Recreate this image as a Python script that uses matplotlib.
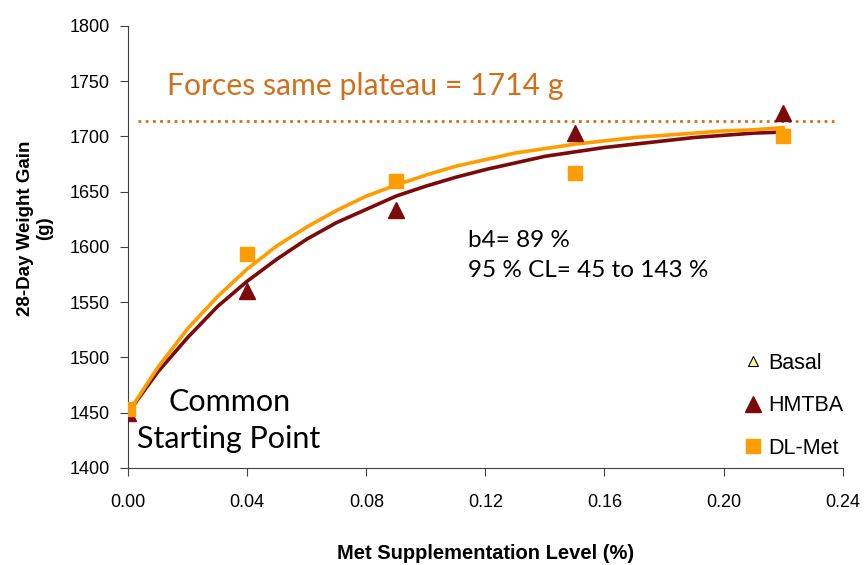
import matplotlib
matplotlib.use('Agg')
import matplotlib.pyplot as plt

# measured gains (g) at each Met supplementation level (%)
levels = [0.00, 0.04, 0.09, 0.15, 0.22]
basal_x = [0.00]
basal_y = [1450]
hmtba_y = [1450, 1560, 1633, 1703, 1721]
dlmet_y = [1453, 1594, 1660, 1667, 1700]

# fitted response curves, read along the x axis
curve_x = [0.00, 0.01, 0.02, 0.03, 0.04, 0.05, 0.06, 0.07, 0.08, 0.09, 0.10, 0.11,
           0.12, 0.13, 0.14, 0.15, 0.16, 0.17, 0.18, 0.19, 0.20, 0.21, 0.22]
hmtba_fit = [1450, 1487, 1518, 1546, 1569, 1589, 1607, 1622, 1634, 1646, 1655, 1663,
             1670, 1676, 1682, 1686, 1690, 1693, 1696, 1699, 1701, 1703, 1704]
dlmet_fit = [1450, 1491, 1526, 1555, 1580, 1601, 1618, 1633, 1646, 1656, 1665, 1673,
             1679, 1685, 1689, 1693, 1696, 1699, 1701, 1703, 1705, 1706, 1708]

plateau = 1714
xticks = [0.00, 0.04, 0.08, 0.12, 0.16, 0.20, 0.24]
yticks = [1400, 1450, 1500, 1550, 1600, 1650, 1700, 1750, 1800]

MAROON = '#7B0A0A'
ORANGE = '#FF9C00'
PLAT = '#D0701C'

fig = plt.figure(figsize=(8.66, 5.65), dpi=100)
ax = fig.add_axes([0.148, 0.172, 0.825, 0.782])

ax.plot(curve_x, hmtba_fit, color=MAROON, lw=2.6, zorder=2)
ax.plot(curve_x, dlmet_fit, color=ORANGE, lw=2.6, zorder=3)

ax.plot(basal_x, basal_y, ls='none', marker='^', ms=7, mfc='#FFFF99', mec='black',
        mew=0.8, label='Basal', zorder=4)
ax.plot(levels, hmtba_y, ls='none', marker='^', ms=12, color=MAROON, label='HMTBA', zorder=5)
ax.plot(levels, dlmet_y, ls='none', marker='s', ms=10, color=ORANGE, label='DL-Met', zorder=6)

ax.plot([0.0034, 0.237], [plateau, plateau], ls=(0, (1, 1.6)), color=PLAT, lw=2, zorder=1)

ax.set_xlim(0, 0.24)
ax.set_ylim(1400, 1800)
ax.set_xticks(xticks)
ax.set_yticks(yticks)
ax.set_xticklabels(['%.2f' % t for t in xticks])
for side in ['top', 'right']:
    ax.spines[side].set_visible(False)
for side in ['left', 'bottom']:
    ax.spines[side].set_color('#404040')
ax.tick_params(direction='out', length=6, color='#404040', labelsize=13)
ax.tick_params(axis='y', pad=7)
ax.tick_params(axis='x', pad=13)
for lab in ax.get_xticklabels() + ax.get_yticklabels():
    lab.set_family('Liberation Sans')

ax.set_xlabel('Met Supplementation Level (%)', family='Liberation Sans', weight='bold',
              fontsize=14.5)
ax.xaxis.set_label_coords(0.5, -0.172)
ax.set_ylabel('28-Day Weight Gain\n(g)', family='Liberation Sans', weight='bold',
              fontsize=13.5)
ax.yaxis.set_label_coords(-0.105, 0.543)

ax.text(0.0131, 1746, 'Forces same plateau = %d g' % plateau, family='Lato',
        fontsize=21.7, color=PLAT, va='center')
ax.text(0.1141, 1592, 'b4= 89 %\n95 % CL= 45 to 143 %', family='Lato', fontsize=17.5,
        va='center', linespacing=1.5)
ax.text(0.0339, 1443, 'Common\nStarting Point', family='Lato', fontsize=22,
        ha='center', va='center', linespacing=1.4)

ax.legend(loc='upper left', bbox_to_anchor=(0.84, 0.285), frameon=False,
          prop={'family': 'Liberation Sans', 'size': 15.5}, handletextpad=0.05,
          labelspacing=1.0, handlelength=1.3, borderpad=0)

fig.savefig('out.png', dpi=100)
